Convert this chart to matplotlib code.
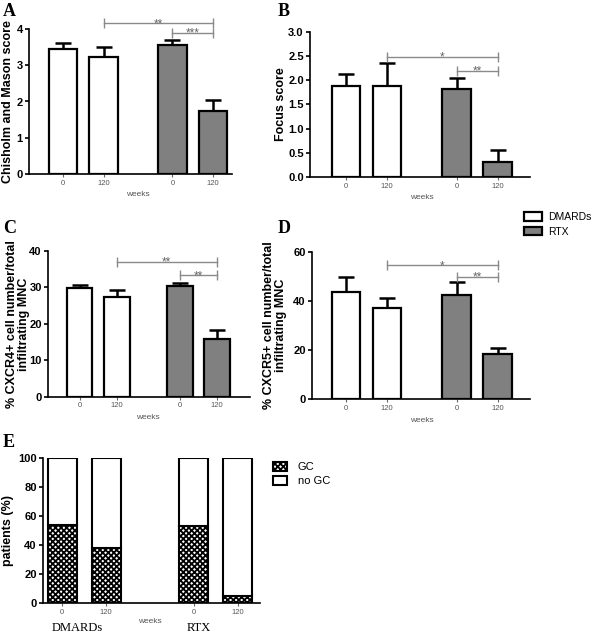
import numpy as np
import matplotlib
matplotlib.use('Agg')
import matplotlib.pyplot as plt
from matplotlib.patches import Patch

plt.rcParams['font.family'] = ['Liberation Sans', 'DejaVu Sans']
plt.rcParams['hatch.linewidth'] = 1.3

# ---- data ----
week_labels = ['0', '120', '0', '120']
groups = ['DMARDs', 'RTX']

a_vals = [3.45, 3.24, 3.57, 1.73]
a_err = [0.17, 0.26, 0.13, 0.31]
b_vals = [1.88, 1.88, 1.81, 0.31]
b_err = [0.25, 0.48, 0.24, 0.24]
c_vals = [29.8, 27.5, 30.4, 15.9]
c_err = [0.9, 1.8, 0.9, 2.4]
d_vals = [43.7, 36.9, 42.4, 18.3]
d_err = [6.1, 4.1, 5.1, 2.6]
e_gc = [54, 38, 53, 5]

a_sig = [(1, 3, '**', 4.16), (2, 3, '***', 3.9)]
b_sig = [(1, 3, '*', 2.48), (2, 3, '**', 2.19)]
c_sig = [(1, 3, '**', 37.1), (2, 3, '**', 33.3)]
d_sig = [(1, 3, '*', 54.5), (2, 3, '**', 49.7)]

W, H = 600, 633
fig = plt.figure(figsize=(6, 6.33), dpi=100)

pos = np.array([0, 1, 2.7, 3.7])
pos_e = np.array([0, 1, 3, 4])
colors = ['white', 'white', '#808080', '#808080']


def place(l, r, top, bottom):
    # pixel box -> figure fractions
    return fig.add_axes([l / W, 1 - bottom / H, (r - l) / W, (bottom - top) / H])


def style(ax, ylim, yticks, fmt, ylabel, lab_px, l, r):
    ax.set_ylim(*ylim)
    ax.set_yticks(yticks)
    ax.set_yticklabels([fmt % t for t in yticks], fontsize=8, fontweight='bold')
    for s in ['top', 'right']:
        ax.spines[s].set_visible(False)
    for s in ['left', 'bottom']:
        ax.spines[s].set_linewidth(1.2)
    ax.tick_params(axis='y', length=3, width=1.2, pad=1.5)
    ax.tick_params(axis='x', length=2, width=0.8, color='#666666', pad=2)
    ax.set_ylabel(ylabel, fontsize=9, fontweight='bold', linespacing=1.0)
    ax.yaxis.label.set_va('center')
    ax.yaxis.set_label_coords((lab_px - l) / (r - l), 0.5)


def bar_panel(box, vals, err, xlim, ylim, yticks, fmt, ylabel, lab_px, sig):
    l, r, top, bottom = box
    ax = place(l, r, top, bottom)
    ax.bar(pos, vals, width=0.7, color=colors, edgecolor='black', linewidth=1.6, zorder=3)
    ax.errorbar(pos, vals, yerr=[np.zeros(4), err], fmt='none', ecolor='black',
                elinewidth=1.8, capsize=6, capthick=1.8, zorder=2)
    ax.set_xlim(*xlim)
    ax.set_xticks(pos)
    ax.set_xticklabels(week_labels, fontsize=5.5, color='#555555')
    ax.text(np.mean(pos), -0.12, 'weeks', transform=ax.get_xaxis_transform(),
            ha='center', va='top', fontsize=6, color='#555555')
    for i, j, stars, y in sig:
        ax.plot([pos[i], pos[j]], [y, y], color='#8a8a8a', lw=1.0, clip_on=False,
                marker='|', markersize=7, markeredgewidth=1.0)
        ax.annotate(stars, ((pos[i] + pos[j]) / 2, y), xytext=(0, -2.8),
                    textcoords='offset points', ha='center', va='baseline',
                    fontsize=8.5, color='#666666', annotation_clip=False)
    style(ax, ylim, yticks, fmt, ylabel, lab_px, l, r)
    return ax


bar_panel((29, 232, 29, 174), a_vals, a_err, (-0.84, 4.17), (0, 4), [0, 1, 2, 3, 4], '%d',
          'Chisholm and Mason score', 8, a_sig)
bar_panel((310, 530, 31.7, 177), b_vals, b_err, (-0.88, 4.49), (0, 3),
          [0, 0.5, 1.0, 1.5, 2.0, 2.5, 3.0], '%.1f', 'Focus score', 281, b_sig)
bar_panel((48, 250, 251, 396.7), c_vals, c_err, (-0.85, 4.6), (0, 40), [0, 10, 20, 30, 40], '%d',
          '% CXCR4+ cell number/total\ninfiltrating MNC', 18, c_sig)
bar_panel((312, 530, 251.7, 399), d_vals, d_err, (-0.83, 4.49), (0, 60), [0, 20, 40, 60], '%d',
          '% CXCR5+ cell number/total\ninfiltrating MNC', 275, d_sig)

# treatment legend
fig.legend(handles=[Patch(facecolor='white', edgecolor='black', linewidth=1.6, label='DMARDs'),
                    Patch(facecolor='#808080', edgecolor='black', linewidth=1.6, label='RTX')],
           loc='upper left', bbox_to_anchor=(524 / W, 1 - 212 / H), frameon=False,
           fontsize=7.5, handlelength=1.7, handleheight=0.85, handletextpad=0.6,
           labelspacing=0.45, borderpad=0, borderaxespad=0)

# panel E: stacked percentages
l, r, top, bottom = 43, 260, 458.3, 603.3
ax = place(l, r, top, bottom)
no_gc = [100 - v for v in e_gc]
ax.bar(pos_e, e_gc, width=0.66, color='white', edgecolor='black', hatch='xxxxxx',
       linewidth=1.5, zorder=3)
ax.bar(pos_e, no_gc, bottom=e_gc, width=0.66, color='white', edgecolor='black',
       linewidth=1.5, zorder=3)
ax.set_xlim(-0.44, 4.51)
ax.set_xticks(pos_e)
ax.set_xticklabels(week_labels, fontsize=5.5, color='#555555')
ax.text(np.mean(pos_e), -0.1, 'weeks', transform=ax.get_xaxis_transform(),
        ha='center', va='top', fontsize=6, color='#555555')
for gx, g in zip([0.34, 3.12], groups):
    ax.text(gx, -0.13, g, transform=ax.get_xaxis_transform(), ha='center', va='top',
            fontsize=9, family='Liberation Serif')
style(ax, (0, 100), [0, 20, 40, 60, 80, 100], '%d', 'patients (%)', 8, l, r)

fig.legend(handles=[Patch(facecolor='white', edgecolor='black', hatch='xxxxxx', linewidth=1.5, label='GC'),
                    Patch(facecolor='white', edgecolor='black', linewidth=1.5, label='no GC')],
           loc='upper left', bbox_to_anchor=(273 / W, 1 - 462 / H), frameon=False,
           fontsize=8, handlelength=1.25, handleheight=0.8, handletextpad=1.0,
           labelspacing=0.35, borderpad=0, borderaxespad=0)

# panel letters
for letter, x, y in [('A', 3, 16), ('B', 278, 16), ('C', 3, 233), ('D', 278, 233), ('E', 3, 447)]:
    fig.text(x / W, 1 - y / H, letter, fontsize=13, fontweight='bold',
             family='Liberation Serif', va='baseline', ha='left')

fig.savefig('out.png', dpi=100)
